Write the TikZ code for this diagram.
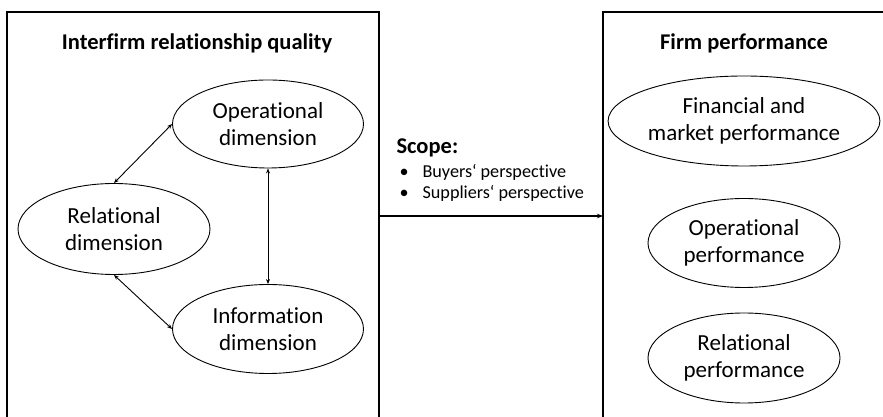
\documentclass[tikz,border=0pt]{standalone}
\usepackage{fontspec}
\setmainfont[Ligatures=NoCommon]{Carlito}
\usetikzlibrary{shapes.geometric,arrows.meta}
\begin{document}
\begin{tikzpicture}[x=1pt,y=1pt,
  oval/.style={draw,ellipse,line width=0.9pt,inner sep=0pt,align=center,font=\fontsize{23}{27}\selectfont},
  title/.style={font=\fontsize{22.5}{26}\selectfont\bfseries},
  link/.style={line width=0.9pt,{Stealth[length=5pt,width=4pt]}-{Stealth[length=5pt,width=4pt]}},
  frame/.style={line width=1.2pt},
  item/.style={anchor=base west,font=\fontsize{18.2}{22}\selectfont}
]
\useasboundingbox (0,0) rectangle (883,417);
\clip (0,0) rectangle (883,417);
\fill[white] (0,0) rectangle (883,417);
% frames (open at the picture's edges)
\draw[frame] (7,-20) -- (7,405) -- (379,405) -- (379,-20);
\draw[frame] (603,-20) -- (603,405) -- (900,405);
% titles
\node[title] (t1) at (197,374) {Interfirm relationship quality};
\node[title] (t2) at (744,374) {Firm performance};
% left ellipses
\node[oval,minimum width=191pt,minimum height=88pt] (op) at (268,293) {Operational\\dimension};
\node[oval,minimum width=192pt,minimum height=91pt] (rel) at (114,188) {Relational\\dimension};
\node[oval,minimum width=191pt,minimum height=89pt] (inf) at (268,88) {Information\\dimension};
\draw[link] (op.west) -- (rel.north);
\draw[link] (op.south) -- (inf.north);
\draw[link] (rel.south) -- (inf.west);
% right ellipses
\node[oval,minimum width=252pt,minimum height=90pt] (fin) at (744,296) {Financial and\\market performance};
\node[oval,minimum width=192pt,minimum height=89pt] (opp) at (744,174) {Operational\\performance};
\node[oval,minimum width=192pt,minimum height=90pt] (relp) at (744,59) {Relational\\performance};
% scope
\node[anchor=base west,font=\fontsize{22.5}{26}\selectfont\bfseries] (sc) at (393,263) {Scope:};
\node[item] (b1) at (396,239) {•};
\node[item] (s1) at (419,239) {Buyers‘ perspective};
\node[item] (b2) at (396,218) {•};
\node[item] (s2) at (419,218) {Suppliers‘ perspective};
% main arrow
\coordinate (a) at (379,201);
\coordinate (b) at (603,201);
\draw[line width=1.2pt,-{Stealth[length=6pt,width=4.5pt]}] (a) -- (b);
\end{tikzpicture}
\end{document}
